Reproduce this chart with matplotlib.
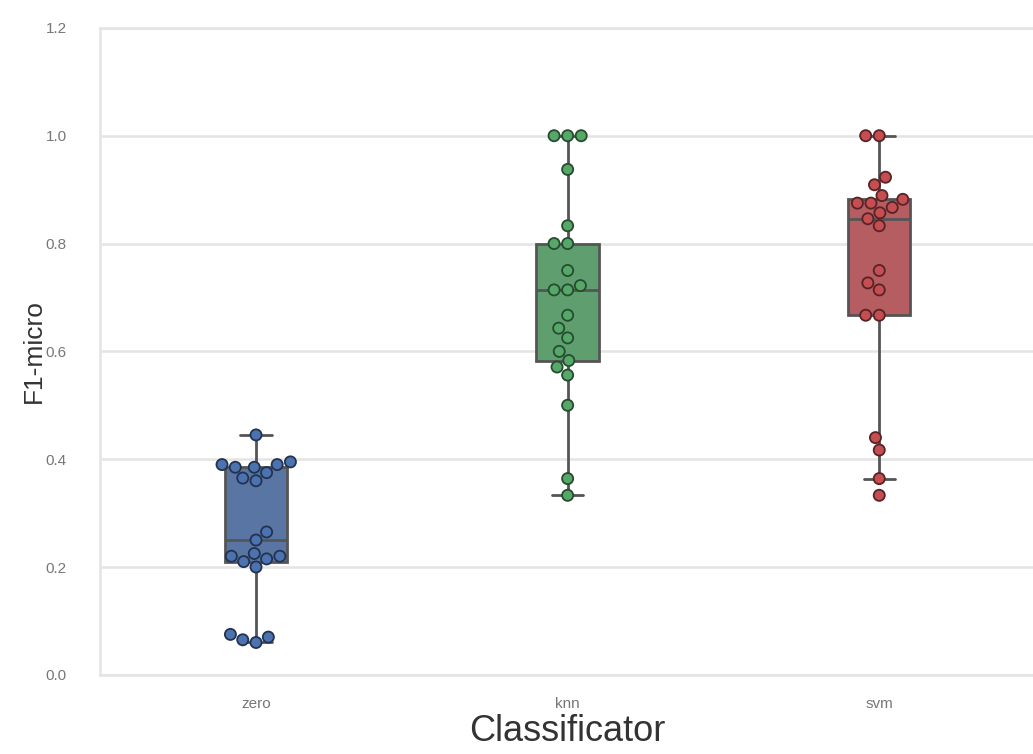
import matplotlib
matplotlib.use('Agg')
import matplotlib.pyplot as plt
import matplotlib.colors as mcolors
import numpy as np
import pandas as pd
import seaborn as sns

# F1-micro scores per classifier
classifiers = ['zero', 'knn', 'svm']
zero_scores = [0.06, 0.065, 0.07, 0.075, 0.2, 0.21, 0.215, 0.22, 0.22, 0.225, 0.25,
               0.265, 0.36, 0.365, 0.375, 0.385, 0.385, 0.39, 0.39, 0.395, 0.445]
knn_scores = [0.333, 0.364, 0.5, 0.556, 0.571, 0.583, 0.6, 0.625, 0.643, 0.667, 0.714,
              0.714, 0.722, 0.75, 0.8, 0.8, 0.833, 0.9375, 1.0, 1.0, 1.0]
svm_scores = [0.333, 0.364, 0.417, 0.44, 0.667, 0.667, 0.714, 0.727, 0.75, 0.833, 0.846,
              0.857, 0.867, 0.875, 0.875, 0.882, 0.889, 0.909, 0.923, 1.0, 1.0]
y_ticks = [0.0, 0.2, 0.4, 0.6, 0.8, 1.0, 1.2]

df = pd.DataFrame({
    'Classificator': ['zero'] * len(zero_scores) + ['knn'] * len(knn_scores) + ['svm'] * len(svm_scores),
    'F1-micro': zero_scores + knn_scores + svm_scores,
})

sns.set_style('whitegrid')
plt.rcParams['font.family'] = ['Liberation Sans', 'DejaVu Sans']

# old seaborn "deep" colours: blue, green, red
palette = ['#4C72B0', '#55A868', '#C44E52']

fig = plt.figure(figsize=(10.33, 7.54), dpi=100)
ax = fig.add_axes([0.097, 0.105, 0.905, 0.858])

sns.boxplot(data=df, x='Classificator', y='F1-micro', hue='Classificator', order=classifiers,
            palette=palette, width=0.2, linewidth=2, linecolor='#555555',
            fliersize=0, legend=False, ax=ax)
sns.swarmplot(data=df, x='Classificator', y='F1-micro', hue='Classificator', order=classifiers,
              palette=palette, size=8, linewidth=1.3, legend=False, ax=ax)

# darker outline of each swarm dot in its own hue
for coll in ax.collections:
    fc = coll.get_facecolors()
    if len(fc):
        dark = [mcolors.to_rgba(np.array(c[:3]) * 0.45) for c in fc]
        coll.set_edgecolors(dark)

ax.set_ylim(0, 1.2)
ax.set_yticks(y_ticks)
ax.set_yticklabels(['%.1f' % t for t in y_ticks])
ax.grid(axis='y', color='#e4e4e4', linewidth=1.8)
ax.grid(axis='x', visible=False)
for s in ax.spines.values():
    s.set_color('#e4e4e4')
    s.set_linewidth(1.8)

ax.tick_params(axis='both', labelsize=11, colors='#777777', length=0)
ax.tick_params(axis='y', pad=24)
ax.tick_params(axis='x', pad=16)
ax.set_xlabel('Classificator', fontsize=26, color='#333333', labelpad=2)
ax.set_ylabel('F1-micro', fontsize=19, color='#333333', labelpad=0)

fig.savefig('out.png', dpi=100)
